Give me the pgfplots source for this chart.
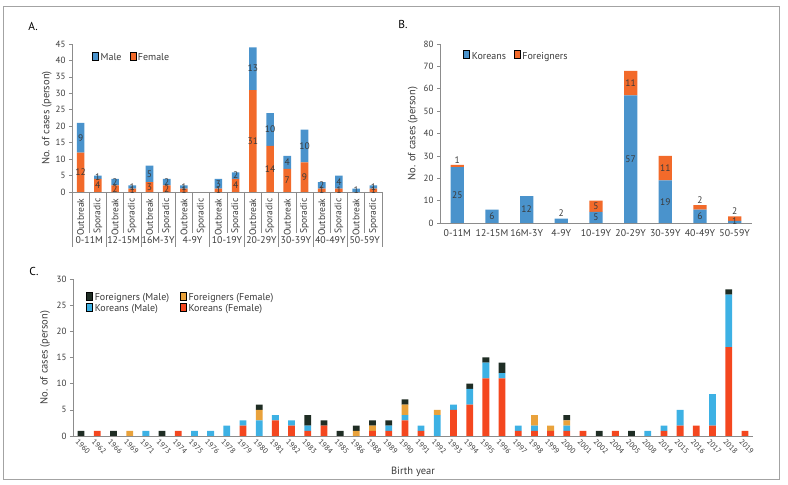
\documentclass[border=0pt]{standalone}
\usepackage{pgfplots}
\pgfplotsset{compat=1.18}
\usepackage{fontspec}
\setmainfont{PT Sans}
\definecolor{mblue}{HTML}{4A93CC}
\definecolor{forange}{HTML}{F26A2A}
\definecolor{cfm}{HTML}{1F2D24}
\definecolor{cff}{HTML}{E9A23B}
\definecolor{ckm}{HTML}{3DB1E4}
\definecolor{ckf}{HTML}{F4471F}
\definecolor{axgray}{HTML}{8C8C8C}
\definecolor{txt}{HTML}{3A3A3A}

\pgfplotsset{
  base/.style={
    scale only axis, axis lines*=left, anchor=south west,
    axis line style={axgray, line width=0.8pt},
    /pgf/number format/assume math mode=true,
    tick label style={font=\fontsize{9}{10}\selectfont, text=txt},
    label style={font=\fontsize{10.5}{12}\selectfont, text=txt},
    ytick style={axgray, line width=0.6pt},
    tick align=outside, major tick length=3pt,
    xtick style={draw=none},
    legend style={draw=none, fill=none, font=\fontsize{10}{11}\selectfont, text=txt,
      /tikz/every even column/.append style={column sep=6pt}},
    legend image code/.code={\fill[##1] (0pt,-2.3pt) rectangle (4.6pt,2.3pt);},
  },
  over/.style={
    scale only axis, anchor=south west, hide axis, clip=false,
    every node near coord/.append style={anchor=center, font=\fontsize{9.5}{10}\selectfont, text=txt},
  },
}

\pgfplotstableread{
i kf km ff fm
0 0 0 0 1
1 1 0 0 0
2 0 0 0 1
3 0 0 1 0
4 0 1 0 0
5 0 0 0 1
6 1 0 0 0
7 0 1 0 0
8 0 1 0 0
9 0 2 0 0
10 2 1 0 0
11 0 3 2 1
12 3 1 0 0
13 2 1 0 0
14 1 1 0 2
15 2 0 0 1
16 0 0 0 1
17 0 0 1 1
18 1 0 1 1
19 1 1 0 1
20 3 1 2 1
21 1 1 0 0
22 0 4 1 0
23 5 1 0 0
24 6 3 0 1
25 11 3 0 1
26 11 1 0 2
27 1 1 0 0
28 1 1 2 0
29 1 0 1 0
30 1 1 1 1
31 1 0 0 0
32 0 0 0 1
33 1 0 0 0
34 0 0 0 1
35 0 1 0 0
36 1 1 0 0
37 2 3 0 0
38 2 0 0 0
39 2 6 0 0
40 17 10 0 1
41 1 0 0 0
}\datC

\begin{document}
\begin{tikzpicture}
\useasboundingbox (0pt,0pt) rectangle (788pt,485pt);
\draw[axgray!80, line width=0.9pt] (3pt,6pt) rectangle (779pt,479pt);
\node[font=\fontsize{11.5}{13}\selectfont, text=black] at (33pt,459pt) {A.};
\node[font=\fontsize{11.5}{13}\selectfont, text=black] at (403pt,460pt) {B.};
\node[font=\fontsize{11.5}{13}\selectfont, text=black] at (34pt,214pt) {C.};

% ---------------- Panel A ----------------
\begin{axis}[base, at={(72pt,293pt)}, width=310pt, height=148pt,
  ybar stacked, bar width=0.44, clip=false,
  xmin=-0.5, xmax=17.5, ymin=0, ymax=45, ytick={0,5,...,45},
  xtick={0,...,17},
  xticklabels={Outbreak,Sporadic,Outbreak,Sporadic,Outbreak,Sporadic,Outbreak,Sporadic,Outbreak,Sporadic,Outbreak,Sporadic,Outbreak,Sporadic,Outbreak,Sporadic,Outbreak,Sporadic},
  xticklabel style={rotate=90, anchor=east, font=\fontsize{9.5}{10}\selectfont},
  ylabel={No. of cases (person)},
  ylabel style={at={(axis description cs:-0.081,0.5)}, anchor=center},
  legend columns=-1, reverse legend,
  legend style={at={(0.055,0.905)}, anchor=west},
]
\addplot[fill=forange, draw=none] coordinates {(0,12) (1,4) (2,2) (3,1) (4,3) (5,2) (6,1) (7,0) (8,1) (9,4) (10,31) (11,14) (12,7) (13,9) (14,1) (15,1) (16,0) (17,1)};
\addplot[fill=mblue, draw=none] coordinates {(0,9) (1,1) (2,2) (3,1) (4,5) (5,2) (6,1) (7,0) (8,3) (9,2) (10,13) (11,10) (12,4) (13,10) (14,2) (15,4) (16,1) (17,1)};
\legend{Female, Male}
\pgfplotsinvokeforeach{0.5,2.5,4.5,6.5,8.5,10.5,12.5,14.5,16.5}{\draw[axgray, line width=0.6pt] (axis cs:#1,0) -- ++(0pt,-41pt);}
\pgfplotsinvokeforeach{-0.5,1.5,3.5,5.5,7.5,9.5,11.5,13.5,15.5,17.5}{\draw[axgray, line width=0.6pt] (axis cs:#1,0) -- ++(0pt,-55pt);}
\foreach \p/\t in {0.5/0-11M, 2.5/12-15M, 4.5/16M-3Y, 6.5/4-9Y, 8.5/10-19Y, 10.5/20-29Y, 12.5/30-39Y, 14.5/40-49Y, 16.5/50-59Y}{
  \edef\tmp{\noexpand\node[font=\noexpand\fontsize{9.8}{10}\noexpand\selectfont, text=txt] at (axis cs:\p,0) [yshift=-48pt] {\t};}\tmp
}
\end{axis}
\begin{axis}[over, at={(72pt,293pt)}, width=310pt, height=148pt,
  xmin=-0.5, xmax=17.5, ymin=0, ymax=45]
\addplot[draw=none, mark=none, nodes near coords, point meta=explicit symbolic] table[meta=l] {
x y l
0 6 12
1 2 4
2 1 2
3 0.5 1
4 1.5 3
5 1 2
6 0.5 1
8 0.5 1
9 2 4
10 15.5 31
11 7 14
12 3.5 7
13 4.5 9
14 0.5 1
15 0.5 1
17 0.5 1
0 16.5 9
1 4.5 1
2 3 2
3 1.5 1
4 5.5 5
5 3 2
6 1.5 1
8 2.5 3
9 5 2
10 37.5 13
11 19 10
12 9 4
13 14 10
14 2 2
15 3 4
16 0.5 1
17 1.5 1
};
\end{axis}

% ---------------- Panel B ----------------
\begin{axis}[base, at={(440pt,262pt)}, width=312pt, height=179pt,
  ybar stacked, bar width=0.38,
  xmin=-0.5, xmax=8.5, ymin=0, ymax=80, ytick={0,10,...,80},
  xtick={0,...,8},
  xticklabels={0-11M,12-15M,16M-3Y,4-9Y,10-19Y,20-29Y,30-39Y,40-49Y,50-59Y},
  xticklabel style={font=\fontsize{9.8}{10}\selectfont},
  ylabel={No. of cases (person)},
  ylabel style={at={(axis description cs:-0.087,0.5)}, anchor=center},
  legend columns=-1,
  legend style={at={(0.065,0.93)}, anchor=west},
]
\addplot[fill=mblue, draw=none] coordinates {(0,25) (1,6) (2,12) (3,2) (4,5) (5,57) (6,19) (7,6) (8,1)};
\addplot[fill=forange, draw=none] coordinates {(0,1) (1,0) (2,0) (3,0) (4,5) (5,11) (6,11) (7,2) (8,2)};
\legend{Koreans, Foreigners}
\end{axis}
\begin{axis}[over, at={(440pt,262pt)}, width=312pt, height=179pt,
  xmin=-0.5, xmax=8.5, ymin=0, ymax=80]
\addplot[draw=none, mark=none, nodes near coords, point meta=explicit symbolic] table[meta=l] {
x y l
0 12.5 25
1 3 6
2 6 12
3 4.6 2
4 2.5 5
5 28.5 57
6 9.5 19
7 3 6
8 0.8 1
0 28.3 1
4 7.5 5
5 62.5 11
6 24.5 11
7 10.4 2
8 5.4 2
};
\end{axis}

% ---------------- Panel C ----------------
\begin{axis}[base, at={(73pt,49pt)}, width=680pt, height=157pt,
  ybar stacked, bar width=0.42,
  xmin=-0.5, xmax=41.5, ymin=0, ymax=30, ytick={0,5,...,30},
  xtick={0,...,41},
  xticklabels={1960,1962,1966,1969,1971,1973,1974,1975,1976,1978,1979,1980,1981,1982,1983,1984,1985,1986,1988,1989,1990,1991,1992,1993,1994,1995,1996,1997,1998,1999,2000,2001,2002,2004,2005,2008,2014,2015,2016,2017,2018,2019},
  xticklabel style={rotate=-45, anchor=north west, font=\fontsize{7.6}{8}\selectfont, inner sep=1pt, xshift=-3pt},
  xlabel={Birth year},
  xlabel style={at={(axis description cs:0.5,-0.229)}, anchor=center},
  ylabel={No. of cases (person)},
  ylabel style={at={(axis description cs:-0.041,0.5)}, anchor=center},
  legend columns=2, reverse legend, legend cell align=left,
  legend style={at={(0.015,0.935)}, anchor=north west, row sep=-1.5pt,
    /tikz/every even column/.append style={column sep=9pt}},
]
\addplot[fill=ckf, draw=none] table[x=i, y=kf] \datC;
\addplot[fill=ckm, draw=none] table[x=i, y=km] \datC;
\addplot[fill=cff, draw=none] table[x=i, y=ff] \datC;
\addplot[fill=cfm, draw=none] table[x=i, y=fm] \datC;
\legend{Koreans (Female), Koreans (Male), Foreigners (Female), Foreigners (Male)}
\end{axis}
\end{tikzpicture}
\end{document}
